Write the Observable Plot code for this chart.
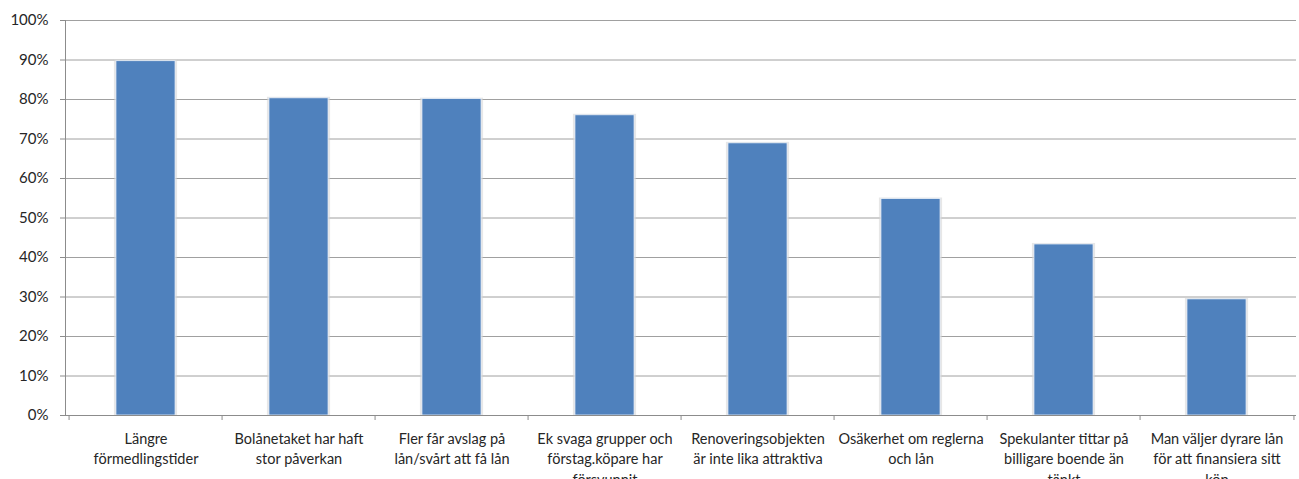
<!DOCTYPE html>
<html>
<head>
<meta charset="utf-8">
<script src="https://cdn.jsdelivr.net/npm/d3@7"></script>
<script src="https://cdn.jsdelivr.net/npm/@observablehq/plot@0.6"></script>
<style>
  html, body { margin: 0; padding: 0; background: #fff; }
  svg { display: block; }
</style>
</head>
<body>
<div id="chart"></div>
<script>
// Reasons cited, shares in percent
const categories = [
  "Längre förmedlingstider",
  "Bolånetaket har haft stor påverkan",
  "Fler får avslag på lån/svårt att få lån",
  "Ek svaga grupper och förstag.köpare har försvunnit",
  "Renoveringsobjekten är inte lika attraktiva",
  "Osäkerhet om reglerna och lån",
  "Spekulanter tittar på billigare boende än tänkt",
  "Man väljer dyrare lån för att finansiera sitt köp"
];
const values = [89.7, 80.3, 80.1, 76.0, 68.9, 54.8, 43.3, 29.4];
// Wrapped tick labels, one entry per category
const tickLabels = [
  "Längre\nförmedlingstider",
  "Bolånetaket har haft\nstor påverkan",
  "Fler får avslag på\nlån/svårt att få lån",
  "Ek svaga grupper och\nförstag.köpare har\nförsvunnit",
  "Renoveringsobjekten\när inte lika attraktiva",
  "Osäkerhet om reglerna\noch lån",
  "Spekulanter tittar på\nbilligare boende än\ntänkt",
  "Man väljer dyrare lån\nför att finansiera sitt\nköp"
];
const yTicks = [0, 10, 20, 30, 40, 50, 60, 70, 80, 90, 100];

const data = categories.map((c, i) => ({category: c, value: values[i], label: tickLabels[i]}));
const labelOf = new Map(data.map(d => [d.category, d.label]));

const W = 1299, H = 479;
const mL = 65, mR = 3, mT = 20, mB = 64;
const step = (W - mL - mR) / categories.length;
const inset = (step - 60) / 2;
const axisGray = "#8c8c8c";

const chart = Plot.plot({
  width: W,
  height: H,
  marginLeft: mL,
  marginRight: mR,
  marginTop: mT,
  marginBottom: mB,
  style: {fontFamily: "Lato, 'Liberation Sans', sans-serif", fontSize: "14px", color: "#262626", background: "#fff"},
  x: {type: "band", domain: categories, padding: 0, label: null},
  y: {domain: [0, 100], label: null},
  marks: [
    Plot.gridY(yTicks, {stroke: "#a0a0a0", strokeOpacity: 1, strokeWidth: 1}),
    // soft edge around each column
    Plot.barY(data, {x: "category", y: "value", insetLeft: inset - 2, insetRight: inset - 2, insetTop: -1, fill: "#d4d4d4", fillOpacity: 0.55}),
    Plot.barY(data, {x: "category", y: "value", insetLeft: inset, insetRight: inset, fill: "#4f81bd", stroke: "#eaf0f8", strokeWidth: 0.8}),
    Plot.ruleY([0], {stroke: axisGray, strokeWidth: 1}),
    Plot.frame({anchor: "left", stroke: axisGray}),
    // category boundary ticks: left edge of every band, then the right edge of the last one
    Plot.axisX(categories, {dx: -step / 2, tickSize: 5, tickFormat: () => "", stroke: axisGray}),
    Plot.axisX([categories[categories.length - 1]], {dx: step / 2, tickSize: 5, tickFormat: () => "", stroke: axisGray}),
    Plot.axisY(yTicks, {tickFormat: d => d + "%", tickSize: 5, tickPadding: 12, stroke: axisGray, fontSize: 15, fill: "#262626"}),
    Plot.axisX({tickSize: 0, tickPadding: 14, tickFormat: d => labelOf.get(d), lineHeight: 1.4, fontSize: 14.5, fill: "#262626"})
  ]
});

document.getElementById("chart").appendChild(chart);
</script>
</body>
</html>
